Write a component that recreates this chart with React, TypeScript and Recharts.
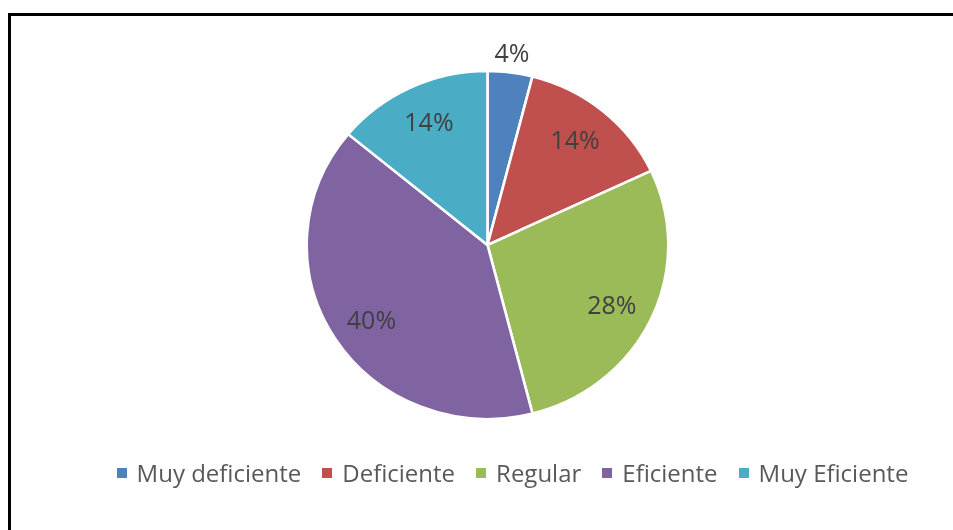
import React from 'react';
import { PieChart, Pie, Cell, Legend } from 'recharts';

const categories = ['Muy deficiente', 'Deficiente', 'Regular', 'Eficiente', 'Muy Eficiente'];
const values = [4, 14, 28, 40, 14];
const colors = ['#4F81BD', '#C0504D', '#9BBB59', '#8064A2', '#4BACC6'];
const labels = ['4%', '14%', '28%', '40%', '14%'];

const data = categories.map((name, i) => ({ name, value: values[i], label: labels[i] }));

const W = 944;
const H = 524;
const CX = 471.5;
const CY = 224;
const R = 174;
const RAD = Math.PI / 180;

const renderLabel = (props: any) => {
  const { cx, cy, midAngle, outerRadius, percent, index } = props;
  const r = percent < 0.06 ? outerRadius + 21 : outerRadius * 0.79;
  const x = cx + r * Math.cos(-midAngle * RAD);
  const y = cy + r * Math.sin(-midAngle * RAD);
  return (
    <text
      x={x}
      y={y}
      fill="#404040"
      textAnchor="middle"
      dominantBaseline="central"
      style={{ fontFamily: '"Open Sans", sans-serif', fontSize: 25 }}
    >
      {data[index].label}
    </text>
  );
};

const renderLegend = () => (
  <div
    style={{
      display: 'flex',
      justifyContent: 'center',
      alignItems: 'center',
      fontFamily: '"Open Sans", sans-serif',
      fontSize: 24,
      lineHeight: '36px',
      color: '#595959',
      whiteSpace: 'nowrap',
    }}
  >
    {data.map((d, i) => (
      <div key={d.name} style={{ display: 'flex', alignItems: 'center', marginRight: i < data.length - 1 ? 21 : 0 }}>
        <span style={{ display: 'inline-block', width: 10, height: 10, background: colors[i], marginRight: 10 }} />
        <span>{d.name}</span>
      </div>
    ))}
  </div>
);

export default function App() {
  return (
    <div style={{ position: 'relative', width: 937, height: 522 }}>
      <style>{`
        html, body { overflow: hidden; }
        .recharts-pie { transform-origin: ${CX + 5}px ${CY + 5}px; transform: scale(1.039, 1); }
      `}</style>
      <div
        style={{
          position: 'fixed',
          left: 8,
          top: 13,
          width: 1000,
          height: 600,
          border: '3px solid #000',
          boxSizing: 'border-box',
          background: '#fff',
        }}
      />
      <div style={{ position: 'absolute', left: 3, top: 8 }}>
        <PieChart width={W} height={H}>
          <Pie
            data={data}
            dataKey="value"
            nameKey="name"
            cx={CX}
            cy={CY}
            outerRadius={R}
            startAngle={90}
            endAngle={-270}
            stroke="#ffffff"
            strokeWidth={2.5}
            label={renderLabel}
            labelLine={false}
            isAnimationActive={false}
          >
            {data.map((d, i) => (
              <Cell key={d.name} fill={colors[i]} />
            ))}
          </Pie>
          <Legend
            content={renderLegend}
            wrapperStyle={{ top: 439, left: 59, width: 885, height: 36 }}
          />
        </PieChart>
      </div>
    </div>
  );
}
